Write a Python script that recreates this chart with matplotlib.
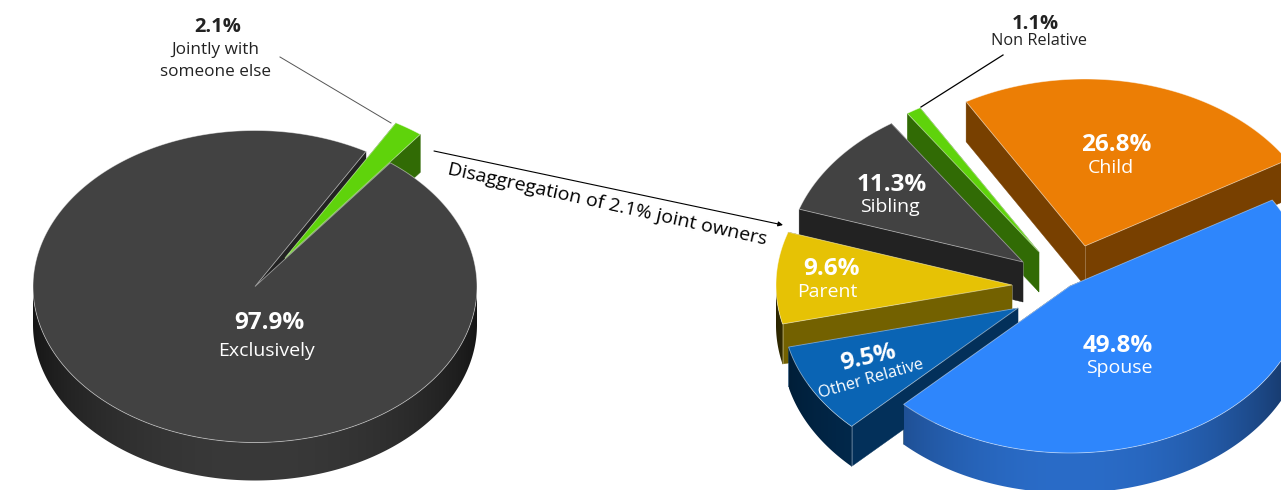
import numpy as np
import matplotlib
matplotlib.use("Agg")
import matplotlib.pyplot as plt
from matplotlib.colors import to_rgb
from matplotlib.patches import Polygon

plt.rcParams['font.family'] = ['Open Sans', 'DejaVu Sans']

# Ownership split
owner_names = ['Exclusively', 'Jointly with\nsomeone else']
owner_values = [97.9, 2.1]

# Breakdown of the joint owners, counter-clockwise from Child
joint_names = ['Child', 'Non Relative', 'Sibling', 'Parent', 'Other Relative', 'Spouse']
joint_values = [26.8, 1.1, 11.3, 9.6, 9.5, 49.8]

# Slice styles: top colour, cut-face colour, rim colour at centre, rim colour at ends
OWNER_STYLE = {
    'Exclusively': ('#424242', '#222222', '#393939', '#151515'),
    'Jointly with\nsomeone else': ('#5FD30B', '#316B05', '#316B05', '#316B05'),
}
JOINT_STYLE = {
    'Child': ('#EC7E05', '#784000', '#784000', '#784000'),
    'Non Relative': ('#5FD30B', '#316B05', '#316B05', '#316B05'),
    'Sibling': ('#424242', '#222222', '#222222', '#222222'),
    'Parent': ('#E6C205', '#736100', '#736100', '#2A2400'),
    'Other Relative': ('#0A64B4', '#03305A', '#03305A', '#001C34'),
    'Spouse': ('#2E86FC', '#03305A', '#2A6CC8', '#10284C'),
}

# Apex of every slice once it has been pulled out of its pie
OWNER_APEX = {'Exclusively': (255, 286.5), 'Jointly with\nsomeone else': (285, 258)}
JOINT_APEX = {
    'Child': (1085, 246), 'Non Relative': (1039, 252), 'Sibling': (1023, 262),
    'Parent': (1012, 285), 'Other Relative': (1018, 308), 'Spouse': (1070, 286),
}


def spans(values, start):
    """Angular extent of each slice, counter-clockwise from start (degrees)."""
    sweep = 360 * np.asarray(values, float) / np.sum(values)
    ends = start + np.cumsum(sweep)
    return list(zip(ends - sweep, ends))


def rim(apex, radii, angles):
    t = np.radians(angles)
    return np.column_stack([apex[0] + radii[0] * np.cos(t), apex[1] - radii[1] * np.sin(t)])


def draw_rim(ax, apex, radii, depth, a0, a1, mid, edge, z):
    """Curved outer face, shaded smoothly from the rim ends to its centre."""
    # Only the part facing the viewer (lower half of the ellipse) is drawn
    lo, hi = None, None
    for base in (180.0, 540.0):
        l, h = max(a0, base), min(a1, base + 180.0)
        if l < h:
            lo, hi = l, h
    if lo is None:
        return
    arc = rim(apex, radii, np.linspace(lo, hi, 400))
    outline = np.vstack([arc, arc[::-1] + [0, depth]])
    xs = np.linspace(arc[:, 0].min(), arc[:, 0].max(), 600)
    u = np.clip((xs - apex[0]) / radii[0], -1, 1)
    w = (1 - u ** 2) ** 0.75
    m, e = np.array(to_rgb(mid)), np.array(to_rgb(edge))
    strip = (e + (m - e) * w[:, None])[None, :, :]
    im = ax.imshow(strip, extent=(xs[0], xs[-1], arc[:, 1].max() + depth + 1, arc[:, 1].min() - 1),
                   aspect='auto', interpolation='bilinear', zorder=z)
    im.set_clip_path(Polygon(outline, closed=True, transform=ax.transData))


def draw_sides(ax, apex, radii, depth, a0, a1, cut, mid, edge, z):
    drop = np.array([0, depth])
    q = np.array(apex, float)
    for a in (a0, a1):
        p = rim(apex, radii, [a])[0]
        ax.add_patch(Polygon([q, p, p + drop, q + drop], closed=True, fc=cut, ec=cut, lw=0.3, zorder=z))
    draw_rim(ax, apex, radii, depth, a0, a1, mid, edge, z + 0.1)
    # Light seams where two visible faces meet
    ax.plot([q[0], q[0]], [q[1], q[1] + depth], color='white', alpha=0.3, lw=0.6, zorder=z + 0.2)
    if np.sin(np.radians(a1)) < 0:
        p = rim(apex, radii, [a1])[0]
        ax.plot([p[0], p[0]], [p[1], p[1] + depth], color='white', alpha=0.3, lw=0.6, zorder=z + 0.2)


def draw_top(ax, apex, radii, a0, a1, colour, z):
    arc = rim(apex, radii, np.linspace(a0, a1, max(int(a1 - a0) * 2, 12)))
    pts = np.vstack([[apex], arc])
    ax.add_patch(Polygon(pts, closed=True, fc=colour, ec='none', zorder=z))
    ax.add_patch(Polygon(pts, closed=True, fc='none', ec=(1, 1, 1, 0.5), lw=0.6, zorder=z + 0.1))


fig = plt.figure(figsize=(12.81, 4.90), dpi=100)
ax = fig.add_axes([0, 0, 1, 1])

# Left pie
radii_l, depth_l = (222, 156), 38
(ex_0, ex_1), (jo_0, jo_1) = spans(owner_values, 60.0)
ex, jo = owner_names
top, cut, mid, edge = OWNER_STYLE[ex]
draw_sides(ax, OWNER_APEX[ex], radii_l, depth_l, ex_0, ex_1, cut, mid, edge, 1)
top2, cut2, mid2, edge2 = OWNER_STYLE[jo]
draw_sides(ax, OWNER_APEX[jo], radii_l, depth_l, jo_0 - 360, jo_1 - 360, cut2, mid2, edge2, 2)
draw_top(ax, OWNER_APEX[ex], radii_l, ex_0, ex_1, top, 3)
draw_top(ax, OWNER_APEX[jo], radii_l, jo_0 - 360, jo_1 - 360, top2, 4)

# Right pie: labels sum past 100, so slices are shared out over the total
radii_r, depth_r = (236, 167), 40
z = 5
for name, (a0, a1) in zip(joint_names, spans(joint_values, 31.0)):
    top, cut, mid, edge = JOINT_STYLE[name]
    draw_sides(ax, JOINT_APEX[name], radii_r, depth_r, a0, a1, cut, mid, edge, z)
    draw_top(ax, JOINT_APEX[name], radii_r, a0, a1, top, z + 0.5)
    z += 1

ax.set_xlim(0, 1281)
ax.set_ylim(490, 0)
ax.set_aspect('auto')
ax.axis('off')

# Leader lines and the link between the pies
ax.plot([280, 391], [57, 123], color='#555555', lw=0.7, zorder=20)
ax.plot([921, 1003], [107, 55], color='black', lw=0.9, zorder=20)
ax.annotate('', xy=(783, 225), xytext=(434, 151), zorder=20,
            arrowprops=dict(arrowstyle='-|>', color='black', lw=0.8, mutation_scale=7, shrinkA=0, shrinkB=0))

DARK = '#222222'
def label(x, y, text, size, colour='white', bold=False, rot=0, spacing=1.2):
    ax.text(x, y, text, fontsize=size, color=colour, ha='center', va='center', linespacing=spacing,
            fontweight='bold' if bold else 'normal', rotation=rot, rotation_mode='anchor', zorder=30)

label(218, 27, f'{owner_values[1]}%', 14.5, DARK, True)
label(215, 61, owner_names[1], 12.3, DARK, spacing=1.42)
label(269, 323, f'{owner_values[0]}%', 17.5, bold=True)
label(267, 351, owner_names[0], 14)

vals = dict(zip(joint_names, joint_values))
label(1035, 24, f"{vals['Non Relative']}%", 14.5, DARK, True)
label(1039, 41, 'Non Relative', 11.7, DARK)
label(1116, 145, f"{vals['Child']}%", 17.5, bold=True)
label(1111, 168, 'Child', 14)
label(892, 185, f"{vals['Sibling']}%", 17.5, bold=True)
label(890, 207, 'Sibling', 14)
label(831, 269, f"{vals['Parent']}%", 17.5, bold=True)
label(827, 292, 'Parent', 14)
label(868, 358, f"{vals['Other Relative']}%", 17.5, bold=True, rot=13)
label(871, 379, 'Other Relative', 11.8, rot=16)
label(1118, 346, f"{vals['Spouse']}%", 17.5, bold=True)
label(1119, 368, 'Spouse', 14)
label(607, 205, 'Disaggregation of 2.1% joint owners', 14, 'black', rot=-12.5)

fig.savefig('out.png', dpi=100)
